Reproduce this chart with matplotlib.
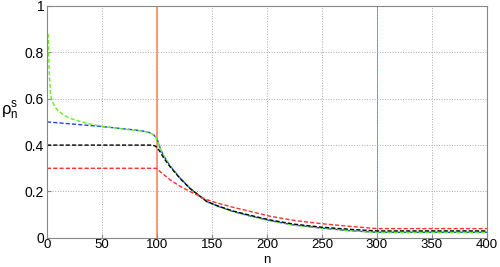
import matplotlib.pyplot as plt

n_green = [1, 2, 3, 4, 6, 8, 10, 15, 20, 30, 40, 50, 60, 70, 80, 85, 90, 94, 97, 99, 101, 103,
           106, 112, 121, 130, 139, 145, 155, 169, 185, 203, 225, 250, 275, 300, 400]
green = [0.88, 0.72, 0.63, 0.6, 0.575, 0.56, 0.548, 0.53, 0.517, 0.502, 0.49, 0.481, 0.475, 0.469, 0.464, 0.461,
         0.457, 0.451, 0.443, 0.432, 0.415, 0.385, 0.355, 0.31, 0.258, 0.214, 0.18, 0.157, 0.137, 0.114, 0.094,
         0.074, 0.055, 0.042, 0.031, 0.023, 0.023]

n_blue = [0, 10, 20, 30, 40, 50, 60, 70, 80, 85, 90, 94, 97, 99, 101, 103,
          106, 112, 121, 130, 139, 145, 155, 169, 185, 203, 225, 250, 275, 300, 400]
blue = [0.5, 0.496, 0.492, 0.488, 0.484, 0.48, 0.475, 0.47, 0.465, 0.462, 0.458, 0.452, 0.444, 0.433, 0.415,
        0.385, 0.355, 0.31, 0.258, 0.214, 0.18, 0.157, 0.137, 0.114, 0.094, 0.074, 0.055, 0.042, 0.031, 0.024, 0.024]

n_black = [0, 95, 98, 100, 103, 106, 112, 121, 130, 139, 145, 155, 169, 185, 203, 225, 250, 275, 300, 400]
black = [0.4, 0.4, 0.397, 0.39, 0.37, 0.345, 0.306, 0.256, 0.213, 0.18, 0.158, 0.138, 0.116, 0.097, 0.077,
         0.059, 0.046, 0.037, 0.03, 0.03]

n_red = [0, 99, 100, 103, 112, 121, 130, 145, 155, 169, 185, 203, 225, 250, 275, 300, 400]
red = [0.3, 0.3, 0.298, 0.285, 0.25, 0.222, 0.2, 0.165, 0.15, 0.132, 0.114, 0.093, 0.075, 0.061, 0.05, 0.04, 0.04]

vlines = [100, 300]

plt.rcParams['font.family'] = ['Liberation Sans', 'DejaVu Sans']

fig = plt.figure(figsize=(5, 2.67), dpi=100)
ax = fig.add_axes([0.094, 0.109, 0.88, 0.869])

ax.axvline(vlines[0], color='#f4a07a', lw=1.5, zorder=1)
ax.axvline(vlines[1], color='#e07030', lw=0.7, zorder=1)

ds = (0, (3, 1.5))
ax.plot(n_blue, blue, color='#2244ee', lw=1, ls=ds)
ax.plot(n_green, green, color='#66ee22', lw=1, ls=ds)
ax.plot(n_black, black, color='black', lw=1, ls=ds)
ax.plot(n_red, red, color='#ff3030', lw=1, ls=ds)

ax.set_xlim(0, 400)
ax.set_ylim(0, 1)
ax.set_xticks(range(0, 401, 50))
ax.set_yticks([0, 0.2, 0.4, 0.6, 0.8, 1])
ax.set_yticklabels(['0', '0.2', '0.4', '0.6', '0.8', '1'])
ax.grid(True, color='#aaaaaa', ls=':', lw=0.7)
ax.tick_params(direction='in', labelsize=10, length=3, color='#888888')
ax.tick_params(axis='x', pad=1, labelsize=9.5)
ax.tick_params(axis='y', pad=2)
for s in ax.spines.values():
    s.set_color('#888888')
ax.set_xlabel('n', fontsize=9.5, va='baseline')
ax.xaxis.set_label_coords(0.5, -0.108)
ax.set_ylabel(r'$\mathregular{\rho_n^s}$', fontsize=12, rotation=0, va='center', ha='center')
ax.yaxis.set_label_coords(-0.085, 0.55)

fig.savefig('out.png', dpi=100)
